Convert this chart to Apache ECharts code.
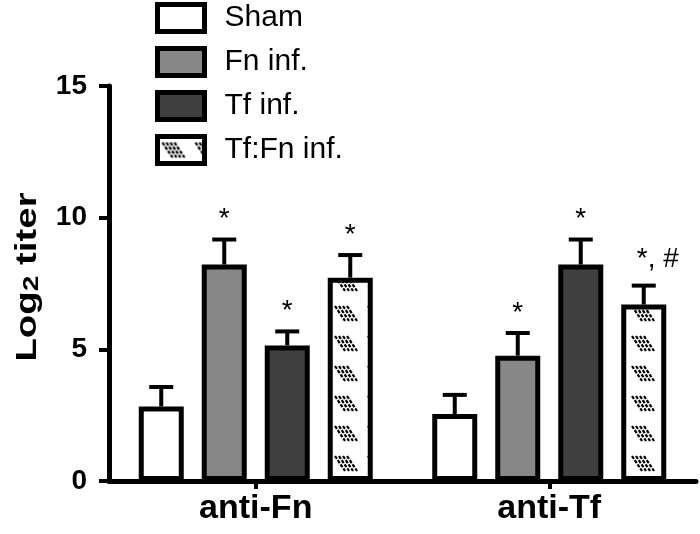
<!DOCTYPE html>
<html>
<head>
<meta charset="utf-8">
<script src="https://cdn.jsdelivr.net/npm/echarts@6/dist/echarts.min.js"></script>
<style>
  html, body { margin: 0; padding: 0; background: #fff; }
  #chart { width: 700px; height: 534px; }
</style>
</head>
<body>
<div id="chart"></div>
<script>
// ---- data ----
const categories = ['anti-Fn', 'anti-Tf'];
const seriesNames = ['Sham', 'Fn inf.', 'Tf inf.', 'Tf:Fn inf.'];
const shamMean = [2.83, 2.54];
const shamErr  = [0.74, 0.73];
const fnMean   = [8.22, 4.76];
const fnErr    = [0.95, 0.86];
const tfMean   = [5.15, 8.22];
const tfErr    = [0.53, 0.95];
const tffnMean = [7.72, 6.70];
const tffnErr  = [0.86, 0.72];
const shamMarks = ['', ''];
const fnMarks   = ['*', '*'];
const tfMarks   = ['*', '*'];
const tffnMarks = ['*', '*, #'];
const yTicks = [0, 5, 10, 15];
const yTitle = '{m|Log}{sub|2}{m| titer}';

const means = [shamMean, fnMean, tfMean, tffnMean];
const errs = [shamErr, fnErr, tfErr, tffnErr];
const marks = [shamMarks, fnMarks, tfMarks, tffnMarks];

// ---- styles ----
const FONT = '"Liberation Sans", Arial, Helvetica, sans-serif';
const BAR_W = 45;
const BAR_GAP = 0.4;
const STEP = BAR_W * (1 + BAR_GAP);

// hatch pattern for Tf:Fn
function makeHatch() {
  const c = document.createElement('canvas');
  c.width = 33; c.height = 30;
  const ctx = c.getContext('2d');
  ctx.fillStyle = '#fff';
  ctx.fillRect(0, 0, c.width, c.height);
  ctx.strokeStyle = '#000';
  ctx.lineWidth = 2.2;
  ctx.setLineDash([3.5, 1.5]);
  for (let i = 0; i < 4; i++) {
    const x0 = 5 + i * 4;
    ctx.beginPath();
    ctx.moveTo(x0, 6);
    ctx.lineTo(x0 + 10, 21);
    ctx.stroke();
  }
  return c;
}
const hatch = makeHatch();

const fills = ['#ffffff', '#878787', '#404040', { image: hatch, repeat: 'repeat' }];

const barSeries = seriesNames.map((name, s) => ({
  name: name,
  type: 'bar',
  barWidth: BAR_W,
  barGap: (BAR_GAP * 100) + '%',
  data: means[s],
  itemStyle: { color: fills[s], borderColor: '#000', borderWidth: 5 },
  emphasis: { disabled: true },
  z: 2
}));

const errData = [];
const errLabels = [];
for (let s = 0; s < 4; s++) {
  for (let c = 0; c < categories.length; c++) {
    errData.push([c, means[s][c], errs[s][c], s]);
    errLabels.push(marks[s][c]);
  }
}

const errSeries = {
  type: 'custom',
  data: errData,
  z: 3,
  silent: true,
  renderItem: function (params, api) {
    const c = api.value(0), v = api.value(1), e = api.value(2), s = api.value(3);
    const base = api.coord([c, v]);
    const top = api.coord([c, v + e]);
    const x = base[0] + (s - 1.5) * STEP;
    const capHalf = 12;
    const children = [
      { type: 'line', shape: { x1: x, y1: base[1], x2: x, y2: top[1] },
        style: { stroke: '#000', lineWidth: 4 } },
      { type: 'line', shape: { x1: x - capHalf, y1: top[1], x2: x + capHalf, y2: top[1] },
        style: { stroke: '#000', lineWidth: 4 } }
    ];
    const txt = errLabels[params.dataIndex];
    if (txt) {
      const multi = txt.length > 1;
      children.push({
        type: 'text',
        style: {
          text: txt,
          x: multi ? x - 7 : x,
          y: top[1] - (multi ? 12 : 6),
          align: multi ? 'left' : 'center',
          verticalAlign: 'bottom',
          font: '28px ' + FONT,
          fill: '#000'
        }
      });
    }
    return { type: 'group', children: children };
  }
};

const chart = echarts.init(document.getElementById('chart'));
chart.setOption({
  animation: false,
  backgroundColor: '#fff',
  grid: { left: 109, right: 4, top: 86, bottom: 53, containLabel: false },
  legend: {
    data: seriesNames,
    orient: 'vertical',
    left: 150,
    top: -3,
    itemWidth: 47,
    itemHeight: 27,
    itemGap: 12,
    selectedMode: false,
    icon: 'rect',
    itemStyle: { borderColor: '#000', borderWidth: 5 },
    textStyle: { fontFamily: FONT, fontSize: 30, color: '#000', padding: [0, 0, 0, 15] }
  },
  graphic: [{
    type: 'text',
    x: 28,
    y: 277,
    rotation: Math.PI / 2,
    scaleX: 1.28,
    silent: true,
    style: {
      text: yTitle,
      align: 'center',
      verticalAlign: 'middle',
      fill: '#000',
      rich: {
        m: { fontFamily: FONT, fontWeight: 'bold', fontSize: 30, fill: '#000', verticalAlign: 'top', lineHeight: 30 },
        sub: { fontFamily: FONT, fontWeight: 'bold', fontSize: 22, fill: '#000', verticalAlign: 'bottom', lineHeight: 22, padding: [17, 0, 0, 0] }
      }
    }
  }],
  xAxis: {
    type: 'category',
    data: categories,
    axisLine: { lineStyle: { color: '#000', width: 5 } },
    axisTick: { show: true, alignWithLabel: true, length: 8, lineStyle: { color: '#000', width: 4 } },
    axisLabel: { color: '#000', fontFamily: FONT, fontWeight: 'bold', fontSize: 34, margin: 11 }
  },
  yAxis: {
    type: 'value',
    min: yTicks[0],
    max: yTicks[yTicks.length - 1],
    interval: yTicks[1] - yTicks[0],
    splitLine: { show: false },
    axisLine: { show: true, lineStyle: { color: '#000', width: 5 } },
    axisTick: { show: true, length: 10, lineStyle: { color: '#000', width: 4 } },
    axisLabel: { color: '#000', fontFamily: FONT, fontWeight: 'bold', fontSize: 28, margin: 22 }
  },
  series: barSeries.concat([errSeries])
});
</script>
</body>
</html>
